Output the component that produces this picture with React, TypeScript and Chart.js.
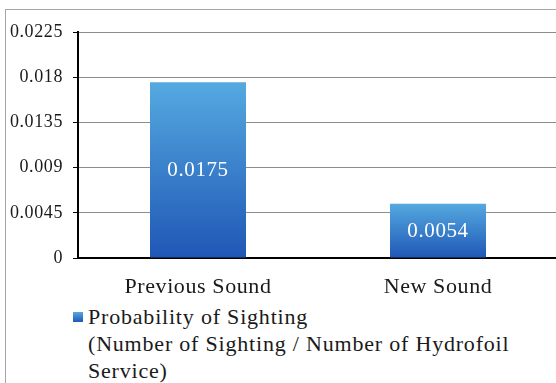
import React, { useEffect, useRef } from "react";
import { Chart, registerables } from "chart.js";

Chart.register(...registerables);

const categories = ["Previous Sound", "New Sound"];
const probabilityValues = [0.0175, 0.0054];
const valueLabels = ["0.0175", "0.0054"];
const yTickValues = [0, 0.0045, 0.009, 0.0135, 0.018, 0.0225];
const yTickLabels = ["0", "0.0045", "0.009", "0.0135", "0.018", "0.0225"];
const legendLines = [
  "Probability of Sighting",
  "(Number of Sighting / Number of Hydrofoil",
  "Service)",
];

const SERIF = '"Liberation Serif", "Times New Roman", serif';

const spacingPlugin = {
  id: "spacing",
  beforeDraw(chart: any) {
    try {
      chart.ctx.letterSpacing = "0.6px";
    } catch (e) {}
  },
};

const valueLabelPlugin = {
  id: "valueLabels",
  afterDatasetsDraw(chart: any) {
    const ctx = chart.ctx;
    const meta = chart.getDatasetMeta(0);
    ctx.save();
    try {
      ctx.letterSpacing = "0.6px";
    } catch (e) {}
    ctx.fillStyle = "#ffffff";
    ctx.font = `21px ${SERIF}`;
    ctx.textAlign = "center";
    ctx.textBaseline = "middle";
    meta.data.forEach((el: any, i: number) => {
      ctx.fillText(valueLabels[i], el.x, (el.y + el.base) / 2 + 1);
    });
    ctx.restore();
  },
};

export default function App() {
  const ref = useRef<HTMLCanvasElement | null>(null);

  useEffect(() => {
    if (!ref.current) return;
    const chart = new Chart(ref.current, {
      type: "bar",
      data: {
        labels: categories,
        datasets: [
          {
            label: legendLines.join(" "),
            data: probabilityValues,
            barPercentage: 0.4,
            categoryPercentage: 1,
            backgroundColor: (c: any) => {
              const ch = c.chart;
              const y = ch.scales && ch.scales.y;
              if (!y || c.dataIndex == null || c.raw == null) return "#3a86d4";
              const top = y.getPixelForValue(c.raw);
              const bot = y.getPixelForValue(0);
              if (!isFinite(top) || !isFinite(bot) || top === bot) return "#3a86d4";
              const g = ch.ctx.createLinearGradient(0, top, 0, bot);
              g.addColorStop(0, "#55a9e0");
              g.addColorStop(1, "#1f57b6");
              return g;
            },
            borderWidth: 0,
          },
        ],
      },
      options: {
        animation: false,
        responsive: false,
        maintainAspectRatio: false,
        layout: { padding: { left: 0, top: 32, right: 0, bottom: 0 } },
        plugins: {
          legend: { display: false },
          tooltip: { enabled: false },
        },
        scales: {
          x: {
            grid: { display: false, drawTicks: false },
            border: { display: true, color: "#000000", width: 2 },
            ticks: {
              padding: 16,
              color: "#1a1a1a",
              font: { family: SERIF, size: 22 },
            },
            afterFit: (s: any) => {
              s.height = 42;
            },
          },
          y: {
            min: 0,
            max: 0.0225,
            afterBuildTicks: (s: any) => {
              s.ticks = yTickValues.map((v) => ({ value: v }));
            },
            grid: {
              color: "#8c8c8c",
              lineWidth: 1,
              tickLength: 5,
              tickColor: "#000000",
              drawTicks: true,
            },
            border: { display: true, color: "#000000", width: 2 },
            ticks: {
              padding: 10,
              color: "#1a1a1a",
              font: { family: SERIF, size: 18 },
              callback: (_v: any, i: number) => yTickLabels[i],
            },
            afterFit: (s: any) => {
              s.width = 78;
            },
          },
        },
      },
      plugins: [spacingPlugin, valueLabelPlugin],
    });
    return () => chart.destroy();
  }, []);

  return (
    <div
      style={{
        position: "fixed",
        left: 0,
        top: 0,
        width: 556,
        height: 383,
        overflow: "hidden",
        background: "#ffffff",
      }}
    >
      <div
        style={{
          position: "absolute",
          left: 5,
          top: 9,
          width: 600,
          height: 420,
          border: "1px solid #a6a6a6",
          boxSizing: "border-box",
        }}
      />
      <canvas
        ref={ref}
        width={558}
        height={300}
        style={{ position: "absolute", left: 0, top: 0, width: 558, height: 300 }}
      />
      <div
        style={{
          position: "absolute",
          left: 73,
          top: 303,
          fontFamily: SERIF,
          fontSize: 22,
          lineHeight: "27px",
          letterSpacing: "0.8px",
          color: "#1a1a1a",
          whiteSpace: "nowrap",
        }}
      >
        <span
          style={{
            position: "absolute",
            left: 0,
            top: 9,
            width: 10,
            height: 10,
            background: "linear-gradient(#55a9e0, #1f57b6)",
          }}
        />
        <div style={{ paddingLeft: 15 }}>
          {legendLines.map((l, i) => (
            <div key={i}>{l}</div>
          ))}
        </div>
      </div>
    </div>
  );
}
